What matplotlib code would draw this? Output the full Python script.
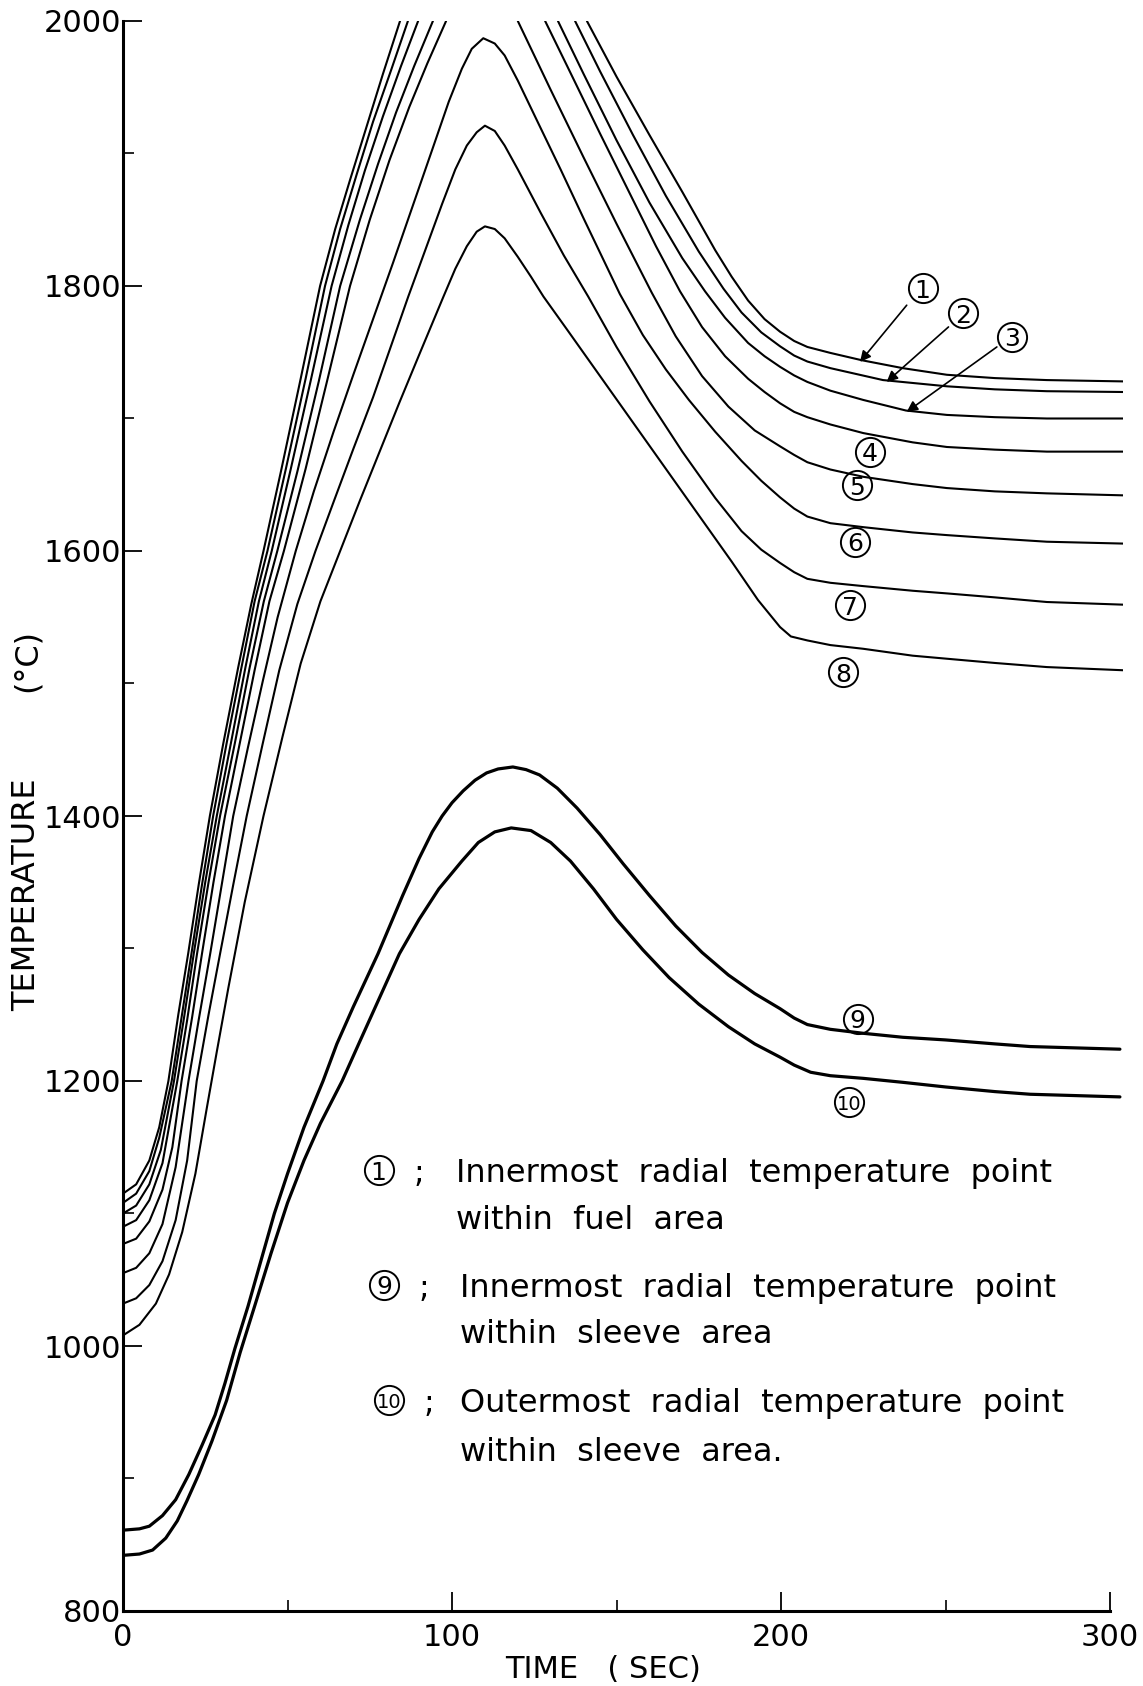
import numpy as np
import matplotlib
matplotlib.use("Agg")
import matplotlib.pyplot as plt
from matplotlib.ticker import FixedLocator

plt.rcParams["font.family"] = ["DejaVu Sans"]

nan = np.nan

# Temperature histories (time in s, temperature in deg C).
# NaN marks the stretch where a curve runs above the 2000 deg C limit.
c1_t = [0, 4, 8, 11, 13.8, 16.8, 19.8, 23, 26.4, 30.5, 35, 39, 42.7, 48, 54, 59.9, 64.5, 69, 74, 79, 84.2,
        nan, 141, 150, 160, 170, 175, 180, 185, 190, 195, 199.7, 204, 208, 215, 224.5, 237, 250.4, 265, 280.8, 304]
c1_T = [1115, 1122, 1140, 1165, 1200, 1250, 1296, 1348, 1400, 1455, 1512, 1560, 1600, 1660, 1730, 1800, 1843, 1880, 1920, 1960, 2000,
        nan, 2000, 1958, 1914, 1871, 1849, 1827, 1807, 1789, 1775, 1765.5, 1758.5, 1754, 1749.5, 1744, 1738, 1733, 1730.5, 1729, 1728]

c2_t = [0, 4, 8, 11, 14.8, 17.8, 20.8, 24, 27.4, 31.5, 36, 40, 43.9, 49.5, 55.5, 61.4, 66, 71, 76, 81.5, 86.6,
        nan, 137.4, 145, 155, 165, 175, 182.5, 188, 194, 199.7, 204, 208, 215, 231, 250.4, 265, 280.8, 304]
c2_T = [1108, 1115, 1132, 1157, 1200, 1248, 1296, 1348, 1400, 1455, 1512, 1562, 1600, 1662, 1730, 1800, 1843, 1884, 1924, 1963, 2000,
        nan, 2000, 1962, 1914, 1868, 1826, 1798, 1780, 1765, 1754.5, 1747.5, 1743, 1738, 1729, 1724.3, 1722, 1720.6, 1720]

c3_t = [0, 4, 8, 11.5, 15.5, 18.5, 21.5, 25, 28.5, 32.8, 37.2, 41.3, 45.2, 51, 57, 63.4, 68.5, 73.5, 79, 84.5, 89.7,
        nan, 132.2, 140, 150, 160, 170, 176.9, 183, 190, 195, 199.7, 204, 208, 215, 225, 238, 250.4, 265, 280.8, 304]
c3_T = [1100, 1106, 1122, 1148, 1200, 1247, 1296, 1350, 1400, 1455, 1512, 1562, 1600, 1662, 1728, 1800, 1846, 1887, 1928, 1966, 2000,
        nan, 2000, 1960, 1910, 1863, 1821, 1796, 1776, 1757, 1747, 1739, 1732.5, 1727.6, 1721, 1714, 1706, 1702.7, 1701, 1700, 1700]

c4_t = [0, 4, 8, 12, 16.5, 19.5, 22.5, 26, 29.5, 34, 38.5, 42.8, 46.9, 53, 59.5, 66, 72, 77.5, 83, 88.5, 94.2,
        nan, 128.3, 135, 145, 155, 162, 169.3, 176, 183, 190, 195, 199.7, 204, 208, 215, 225, 240, 250.4, 265, 280.8, 304]
c4_T = [1090, 1095, 1110, 1138, 1200, 1246, 1296, 1350, 1400, 1455, 1512, 1562, 1600, 1660, 1728, 1800, 1850, 1892, 1931, 1966, 2000,
        nan, 2000, 1966, 1915, 1865, 1830, 1796, 1769, 1747, 1730, 1720, 1711.5, 1705, 1701, 1695.5, 1689, 1682, 1678.5, 1676.5, 1675, 1675]

c5_t = [0, 4, 8, 12, 15, 17.8, 21, 24, 27.5, 31, 35.5, 40, 44.5, 48.9, 55.5, 62, 69, 75, 81, 87, 92.5, 98.2,
        nan, 120, 130, 140, 150, 160.7, 168, 176, 184, 192, 199.7, 204, 208, 215, 225, 240, 250.4, 265, 280.8, 304]
c5_T = [1077, 1081, 1094, 1118, 1150, 1200, 1248, 1296, 1350, 1400, 1455, 1510, 1562, 1600, 1662, 1728, 1800, 1850, 1895, 1935, 1968, 2000,
        nan, 2000, 1948, 1897, 1847, 1795, 1762, 1732, 1709, 1691, 1679, 1672.5, 1667, 1661.5, 1656, 1650.5, 1647.5, 1645, 1643.5, 1642]

c6_t = [0, 4, 8, 12, 16, 19.9, 23, 26.5, 30, 33.5, 38, 42.5, 47, 52.5, 58, 64, 70, 76, 82, 88, 94, 99, 103, 106, 109.5,
        113, 116, 120, 126, 133, 140, 151, 158, 165, 172, 180, 188, 194, 199.7, 204, 208, 215, 225, 240, 250.4, 265, 280.8, 304]
c6_T = [1055, 1059, 1070, 1092, 1135, 1200, 1246, 1296, 1348, 1400, 1452, 1502, 1550, 1600, 1645, 1690, 1733, 1775, 1817, 1860, 1903, 1939, 1964, 1979, 1987,
        1983, 1974, 1955, 1924, 1888, 1851, 1794, 1763, 1737, 1714, 1690, 1668, 1653, 1640.5, 1632, 1626, 1621, 1618, 1614, 1612, 1609.5, 1607, 1605.6]

c7_t = [0, 4, 8, 12, 16, 19.5, 22.4, 26, 29.5, 33.5, 37.6, 42.5, 47.5, 53, 58.5, 64, 70, 76, 81.5, 86.7, 92, 97, 101, 104.5, 107.5, 110,
        113, 116, 120, 127, 134, 141.4, 150, 160, 170, 180, 188, 194, 199.7, 204, 208, 215, 225, 240, 250.4, 265, 280.8, 304]
c7_T = [1032, 1036, 1046, 1064, 1095, 1140, 1200, 1250, 1296, 1348, 1400, 1455, 1510, 1560, 1600, 1637, 1677, 1716, 1755, 1792, 1828, 1862, 1888, 1906, 1916, 1921,
        1917, 1906, 1888, 1855, 1823, 1792, 1754, 1713, 1675, 1640, 1615, 1601, 1591, 1584, 1579, 1576, 1573.5, 1570, 1568, 1565, 1561.5, 1559.5]

c8_t = [0, 5, 10, 14, 18, 22, 25.5, 28.5, 32, 37, 42.7, 48.5, 54, 60, 66, 72, 78, 84, 90, 97.4, 101, 104.5, 107.5, 110,
        113, 116, 120, 124, 127.8, 135, 145, 155, 165, 175, 185, 193, 199.7, 203, 208, 215, 225, 240, 250.4, 265, 280.8, 304]
c8_T = [1008, 1016, 1032, 1054, 1086, 1130, 1180, 1222, 1270, 1335, 1400, 1460, 1515, 1562, 1600, 1638, 1675, 1712, 1748, 1792, 1813, 1830, 1841, 1845,
        1843, 1836, 1822, 1807, 1792, 1767, 1732, 1697, 1662, 1627, 1592, 1563, 1542.6, 1535.5, 1532.5, 1529, 1526.2, 1521, 1518.7, 1515.5, 1512.4, 1510]

c9_t = [0, 5, 8, 12, 16, 20, 24, 28, 31, 34, 38, 42, 46, 50, 55, 60.8, 65, 70, 77.5, 85, 90, 94, 97, 100, 103.4, 107, 110.5, 114, 118.5,
        122.5, 126.6, 132, 138, 145, 152, 160, 168, 176, 184, 192, 199.7, 204, 208, 215, 225, 237, 250, 265, 275.7, 303]
c9_T = [861, 862, 864, 872, 884, 903, 925, 948, 972, 998, 1030, 1065, 1100, 1130, 1165, 1200, 1228, 1256, 1296, 1340, 1368, 1388, 1400, 1410, 1419, 1427, 1432.5, 1435.5, 1437,
        1435, 1431, 1421, 1406, 1386, 1364, 1340, 1317, 1297, 1280, 1266, 1254.6, 1247.5, 1242.6, 1239, 1236, 1233, 1231, 1228, 1226, 1224]

c10_t = [0, 5, 9, 13, 16.5, 19.4, 23, 27, 31.5, 35.6, 40, 45, 50, 55, 60, 66.6, 72, 78, 84, 90, 96, 103, 108, 113, 118,
         124, 130, 136, 143, 150, 158, 166, 175, 184, 192, 199.7, 204, 209, 215, 225, 237, 250, 265, 275.7, 303]
c10_T = [842, 843, 846, 855, 868, 883, 903, 928, 959, 995, 1030, 1070, 1108, 1140, 1168, 1200, 1230, 1263, 1296, 1322, 1345, 1366, 1380, 1388, 1391,
         1389, 1380, 1366, 1345, 1322, 1299, 1278, 1258, 1241, 1228, 1218, 1212, 1206.6, 1204, 1202, 1199, 1195.5, 1192, 1190, 1188]

fuel_curves = [(c1_t, c1_T), (c2_t, c2_T), (c3_t, c3_T), (c4_t, c4_T),
               (c5_t, c5_T), (c6_t, c6_T), (c7_t, c7_T), (c8_t, c8_T)]
sleeve_curves = [(c9_t, c9_T), (c10_t, c10_T)]

# curve tags: (label, time, temperature)
tags = [("1", 243.0, 1798.4), ("2", 255.4, 1779.3), ("3", 270.3, 1761.6),
        ("4", 227.1, 1674.8), ("5", 223.0, 1649.6), ("6", 222.5, 1606.8),
        ("7", 221.0, 1559.0), ("8", 218.9, 1508.6), ("9", 223.3, 1246.9),
        ("10", 220.8, 1184.0)]
# leader arrows for tags 1-3: (start, tip) in (time, temperature)
leaders = [((238.2, 1785.5), (224.0, 1742.7)),
           ((250.9, 1769.1), (232.1, 1727.6)),
           ((265.6, 1754.0), (238.2, 1705.0))]

x_major = [0, 100, 200, 300]
x_minor = [50, 150, 250]
y_major = [800, 1000, 1200, 1400, 1600, 1800, 2000]
y_minor = [900, 1100, 1300, 1500, 1700, 1900]

legend_rows = [("1", "Innermost  radial  temperature  point", "within  fuel  area"),
               ("9", "Innermost  radial  temperature  point", "within  sleeve  area"),
               ("10", "Outermost  radial  temperature  point", "within  sleeve  area.")]

W, H = 1143, 1686
fig = plt.figure(figsize=(W / 100, H / 100), dpi=100)


def fx(px):
    return px / W


def fy(py):
    return 1 - py / H


left, right, top, bottom = 123, 1123.2, 21, 1611
ax = fig.add_axes([fx(left), fy(bottom), fx(right - left), (bottom - top) / H])
ax.set_xlim(0, 304)
ax.set_ylim(800, 2000)

for t, T in fuel_curves:
    ax.plot(t, T, color="black", lw=1.5, solid_joinstyle="round", solid_capstyle="round")
for t, T in sleeve_curves:
    ax.plot(t, T, color="black", lw=2.3, solid_joinstyle="round", solid_capstyle="round")


def tag_font(s):
    return 14 if len(s) > 1 else 18


for s, t, T in tags:
    ax.plot([t], [T], marker="o", ms=21, mfc="none", mec="black", mew=1.4)
    ax.text(t, T, s, ha="center", va="center_baseline", fontsize=tag_font(s))

for (t0, T0), (t1, T1) in leaders:
    ax.annotate("", xy=(t1, T1), xytext=(t0, T0),
                arrowprops=dict(arrowstyle="-|>", color="black", lw=1.2,
                                mutation_scale=16, shrinkA=0, shrinkB=0))

for side in ("top", "right"):
    ax.spines[side].set_visible(False)
for side in ("left", "bottom"):
    ax.spines[side].set_linewidth(2.2)
ax.spines["bottom"].set_bounds(0, 300)

ax.xaxis.set_major_locator(FixedLocator(x_major))
ax.xaxis.set_minor_locator(FixedLocator(x_minor))
ax.yaxis.set_major_locator(FixedLocator(y_major))
ax.yaxis.set_minor_locator(FixedLocator(y_minor))
ax.set_xticklabels([str(v) for v in x_major])
ax.set_yticklabels([str(v) for v in y_major])
ax.tick_params(which="major", direction="in", length=14, width=1.3, labelsize=22)
ax.tick_params(which="minor", direction="in", length=8, width=1.2)
ax.tick_params(axis="x", which="major", pad=9)
ax.tick_params(axis="y", which="major", pad=1)

fig.text(fx(603), fy(1669), "TIME   ( SEC)", ha="center", va="center", fontsize=22)
fig.text(fx(27), fy(895), "TEMPERATURE", ha="center", va="center", rotation=90, fontsize=23)
fig.text(fx(27), fy(661), "(\u00b0C)", ha="center", va="center", rotation=90, fontsize=23)

rows_y = [(1170, 1217), (1285, 1331), (1400, 1449)]
circle_x = [378.5, 384, 389]
text_x = [456, 460, 460]
for (num, line1, line2), (y1, y2), cx, tx in zip(legend_rows, rows_y, circle_x, text_x):
    fig.lines.append(plt.Line2D([fx(cx)], [fy(y1)], marker="o", ms=21, mfc="none",
                                mec="black", mew=1.4, transform=fig.transFigure))
    fig.text(fx(cx), fy(y1), num, ha="center", va="center_baseline", fontsize=tag_font(num))
    fig.text(fx(cx + 40), fy(y1), ";", ha="center", va="center_baseline", fontsize=23)
    fig.text(fx(tx), fy(y1), line1, ha="left", va="center_baseline", fontsize=23)
    fig.text(fx(tx), fy(y2), line2, ha="left", va="center_baseline", fontsize=23)

fig.savefig("out.png", dpi=100, facecolor="white")
